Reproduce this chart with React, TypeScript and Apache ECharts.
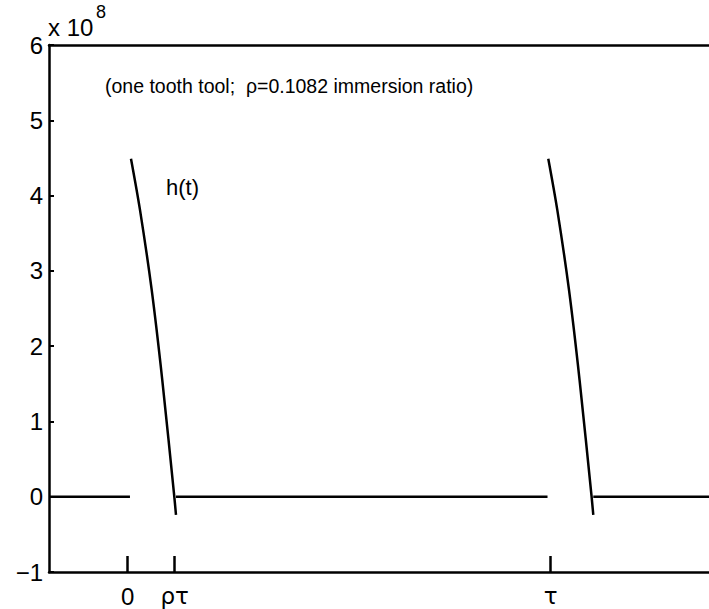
import React, { useEffect, useRef } from "react";
import * as echarts from "echarts";

// x in units of tau, y in units of 1e8
const xTickValues = [0, 0.111, 1];
const xTickLabels = ["0", "{g|ρτ}", "{g|τ}"];
const yTicks = [-1, 0, 1, 2, 3, 4, 5, 6];

const pulse1T = [0.0078, 0.0291, 0.0567, 0.0818, 0.1102, 0.1142];
const pulse1H = [4.49, 3.81, 2.75, 1.55, 0, -0.24];
const pulse2T = [0.9943, 1.0156, 1.0432, 1.0683, 1.0967, 1.1007];
const pulse2H = [4.49, 3.81, 2.75, 1.55, 0, -0.24];

const zeroSegments = [
  [-0.186, 0.0054],
  [0.1142, 0.9925],
  [1.1007, 1.3837],
];

const annotation = "(one tooth tool;  ρ=0.1082 immersion ratio)";
const curveLabel = "h(t)";

const FONT = "'Liberation Sans', Arial, Helvetica, sans-serif";

export default function App() {
  const ref = useRef<HTMLDivElement>(null);
  useEffect(() => {
    if (!ref.current) return;
    const chart = echarts.init(ref.current, null, { renderer: "svg" });
    const lineStyle = { color: "#000", width: 2.5 };
    const series: any[] = [];
    zeroSegments.forEach((s, i) => {
      series.push({
        type: "line",
        name: "zero" + i,
        data: [
          [s[0], 0],
          [s[1], 0],
        ],
        showSymbol: false,
        lineStyle,
        silent: true,
      });
    });
    series.push({
      type: "line",
      name: "pulse1",
      data: pulse1T.map((t, i) => [t, pulse1H[i]]),
      showSymbol: false,
      smooth: 0.3,
      lineStyle,
    });
    series.push({
      type: "line",
      name: "pulse2",
      data: pulse2T.map((t, i) => [t, pulse2H[i]]),
      showSymbol: false,
      smooth: 0.3,
      lineStyle,
    });
    const axisLine = { show: true, onZero: false, lineStyle: { color: "#000", width: 2.5 } };
    chart.setOption({
      animation: false,
      textStyle: { fontFamily: FONT },
      grid: { left: 49, top: 45, right: 7, bottom: 37 },
      xAxis: [
        {
          type: "value",
          min: -0.186,
          max: 1.3837,
          position: "bottom",
          splitLine: { show: false },
          axisLine,
          axisTick: {
            show: true,
            inside: true,
            length: 16,
            customValues: xTickValues,
            lineStyle: { color: "#000", width: 2.5 },
          },
          axisLabel: {
            show: true,
            customValues: xTickValues,
            margin: 12,
            fontSize: 24,
            color: "#000",
            fontFamily: FONT,
            rich: {
              g: { fontSize: 23, fontFamily: "'DejaVu Sans', sans-serif", color: "#000" },
            },
            formatter: (v: number) => {
              const i = xTickValues.findIndex((x) => Math.abs(x - v) < 1e-6);
              return i >= 0 ? xTickLabels[i] : "";
            },
          },
        },
        {
          type: "value",
          min: -0.186,
          max: 1.3837,
          position: "top",
          splitLine: { show: false },
          axisLine,
          axisTick: { show: false },
          axisLabel: { show: false },
        },
      ],
      yAxis: [
        {
          type: "value",
          min: -1,
          max: 6,
          interval: 1,
          position: "left",
          splitLine: { show: false },
          axisLine,
          axisTick: { show: true, inside: true, length: 5, lineStyle: { color: "#000", width: 2 } },
          axisLabel: {
            margin: 6,
            fontSize: 24,
            color: "#000",
            fontFamily: FONT,
            formatter: (v: number) => (yTicks.includes(v) ? (v < 0 ? "\u2212" + Math.abs(v) : String(v)) : ""),
          },
        },
        {
          type: "value",
          min: -1,
          max: 6,
          interval: 1,
          position: "right",
          splitLine: { show: false },
          axisLine,
          axisTick: { show: true, inside: true, length: 4, lineStyle: { color: "#ccc", width: 1 } },
          axisLabel: { show: false },
        },
      ],
      graphic: [
        {
          type: "text",
          left: 48,
          top: 15,
          style: { text: "x 10", fontSize: 24, fill: "#000", fontFamily: FONT },
        },
        {
          type: "text",
          left: 96,
          top: 3,
          style: { text: "8", fontSize: 18, fill: "#000", fontFamily: FONT },
        },
        {
          type: "text",
          left: 105,
          top: 76,
          style: { text: annotation, fontSize: 19.5, fill: "#000", fontFamily: FONT },
        },
        {
          type: "text",
          left: 166,
          top: 176,
          style: { text: curveLabel, fontSize: 22, fill: "#000", fontFamily: FONT },
        },
      ],
      series,
    });
    return () => chart.dispose();
  }, []);
  return (
    <div style={{ position: "fixed", left: 0, top: 0, width: 709, height: 609, overflow: "hidden", background: "#fff" }}>
      <div ref={ref} style={{ width: 720, height: 609 }} />
    </div>
  );
}
